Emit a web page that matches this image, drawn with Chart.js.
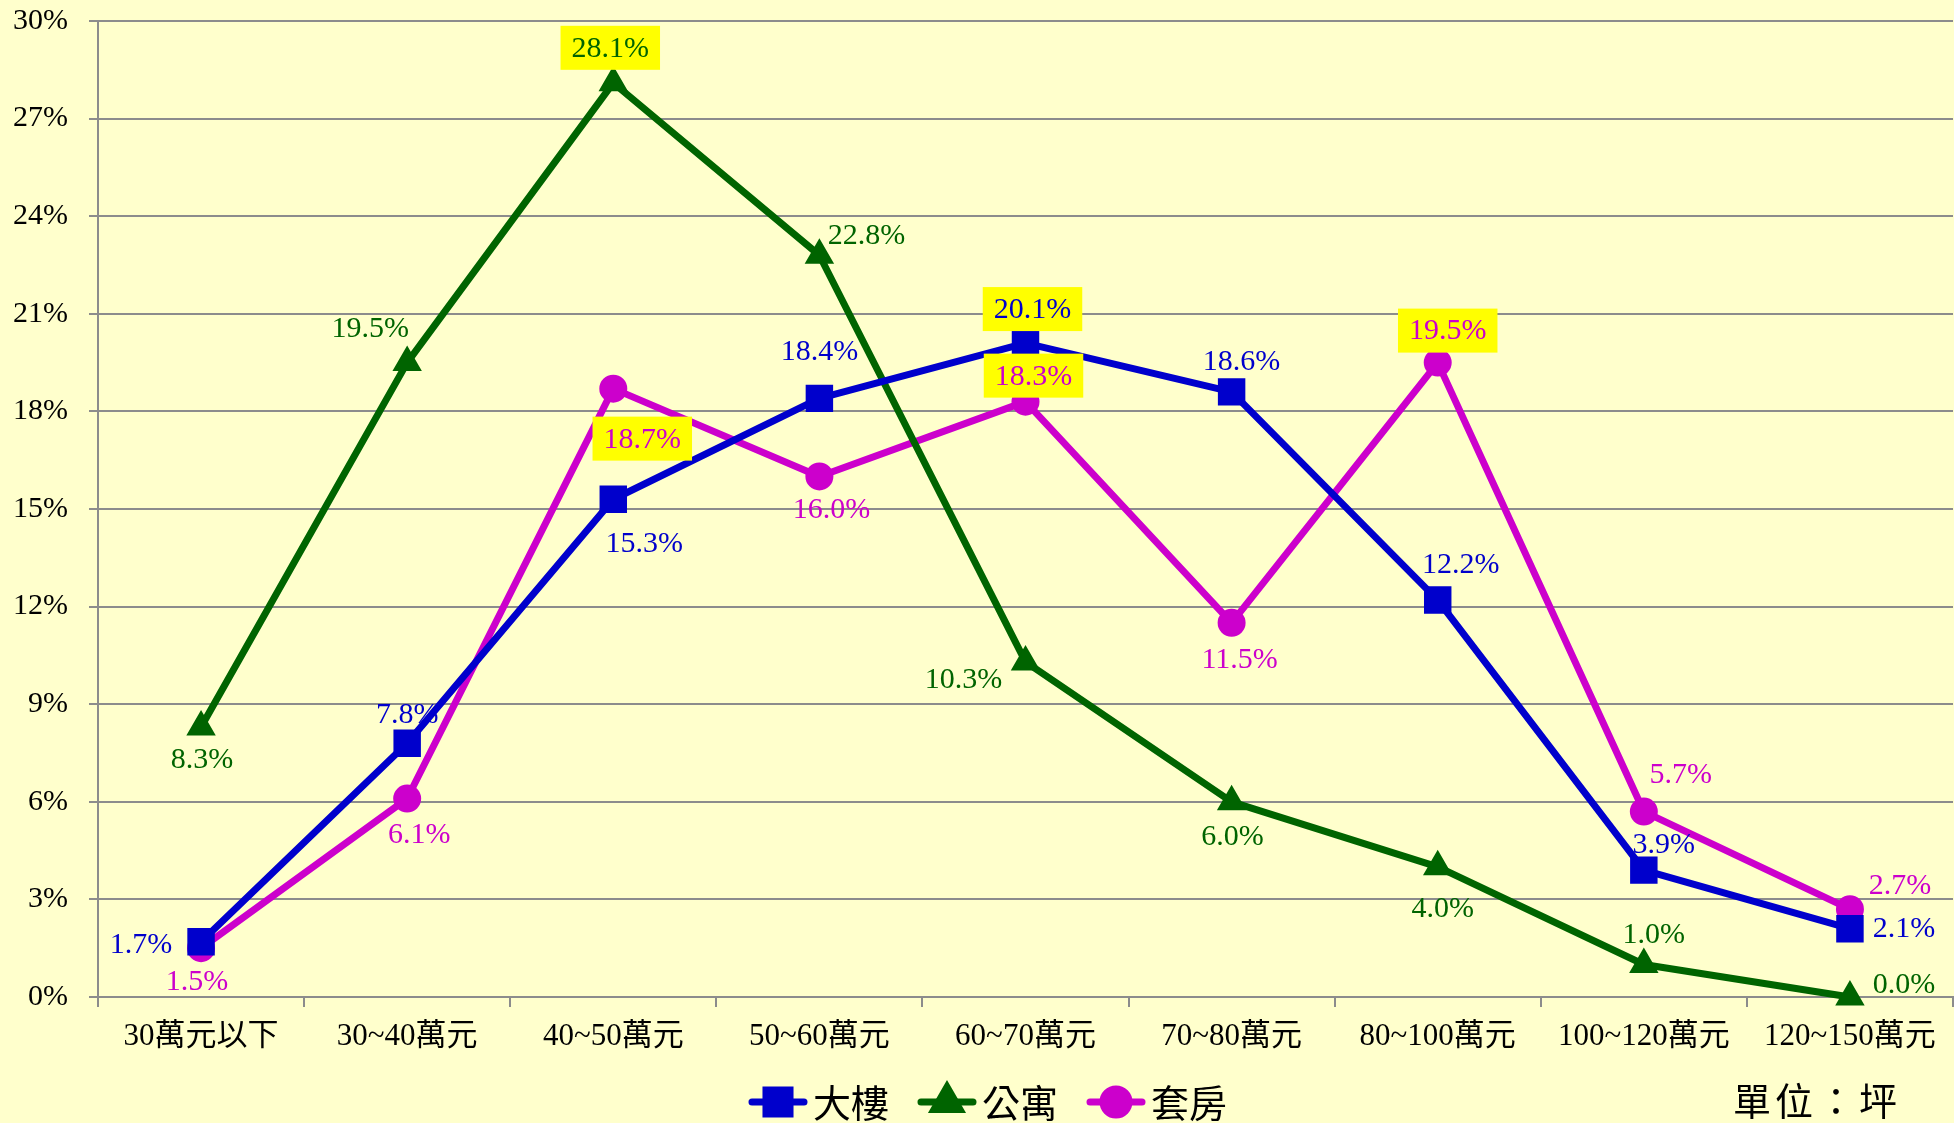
<!DOCTYPE html>
<html>
<head>
<meta charset="utf-8">
<script src="https://cdn.jsdelivr.net/npm/chart.js@4"></script>
<style>
  html, body { margin: 0; padding: 0; background: #ffffcc; overflow: hidden; }
  #wrap { width: 1954px; height: 1123px; position: relative; }
  canvas { display: block; }
</style>
</head>
<body>
<div id="wrap"><canvas id="chart"></canvas></div>
<script>
// data (percent)
const categories = ["30萬元以下", "30~40萬元", "40~50萬元", "50~60萬元", "60~70萬元", "70~80萬元", "80~100萬元", "100~120萬元", "120~150萬元"];
const seriesNames = ["大樓", "公寓", "套房"];
const buildingValues = [1.7, 7.8, 15.3, 18.4, 20.1, 18.6, 12.2, 3.9, 2.1];
const apartmentValues = [8.3, 19.5, 28.1, 22.8, 10.3, 6.0, 4.0, 1.0, 0.0];
const suiteValues = [1.5, 6.1, 18.7, 16.0, 18.3, 11.5, 19.5, 5.7, 2.7];
const yTickValues = [0, 3, 6, 9, 12, 15, 18, 21, 24, 27, 30];
const unitNote = "單位：坪";

const FONT_LATIN = "'Liberation Serif', 'Times New Roman', 'Noto Sans CJK TC', serif";
const COLORS = ["#0000cc", "#006400", "#cc00cc"];

// where each value label sits relative to its point (px), and which get a yellow box
const labelOffsets = [
  [[-60, 2], [0, -29], [31, 44], [0, -47], [7, -34], [10, -31], [23, -36], [20, -26], [54, -1]],
  [[1, 32], [-37, -34], [-3, -35], [47, -20], [-62, 17], [1, 34], [5, 41], [10, -30], [54, -13]],
  [[-4, 33], [12, 36], [29, 50], [12, 33], [8, -26], [8, 36], [10, -32], [37, -37], [50, -24]]
];
const labelHighlight = [
  [false, false, false, false, true, false, false, false, false],
  [false, false, true, false, false, false, false, false, false],
  [false, false, true, false, true, false, true, false, false]
];

const valueLabels = {
  id: "valueLabels",
  afterDatasetsDraw(chart) {
    const ctx = chart.ctx;
    ctx.save();
    ctx.font = "30px " + FONT_LATIN;
    ctx.textAlign = "center";
    ctx.textBaseline = "middle";
    chart.data.datasets.forEach(function (ds, di) {
      const meta = chart.getDatasetMeta(di);
      meta.data.forEach(function (pt, i) {
        const txt = ds.data[i].toFixed(1) + "%";
        const x = pt.x + labelOffsets[di][i][0];
        const y = pt.y + labelOffsets[di][i][1];
        if (labelHighlight[di][i]) {
          const w = ctx.measureText(txt).width + 22;
          ctx.fillStyle = "#ffff00";
          ctx.fillRect(x - w / 2, y - 22, w, 44);
        }
        ctx.fillStyle = COLORS[di];
        ctx.fillText(txt, x, y + 1);
      });
    });
    ctx.restore();
  }
};

const bottomLegend = {
  id: "bottomLegend",
  afterDraw(chart) {
    const ctx = chart.ctx;
    const styles = ["rect", "triangle", "circle"];
    const radii = [17, 15, 13];
    ctx.save();
    ctx.font = "38px 'Noto Sans CJK TC', sans-serif";
    ctx.textBaseline = "middle";
    const lineW = 58, gapText = 6, gapItem = 29;
    let total = 0;
    seriesNames.forEach(function (n, i) {
      total += lineW + gapText + ctx.measureText(n).width + (i < seriesNames.length - 1 ? gapItem : 0);
    });
    let x = chart.width / 2 + 11 - total / 2;
    const y = 1102;
    seriesNames.forEach(function (n, i) {
      ctx.strokeStyle = COLORS[i];
      ctx.fillStyle = COLORS[i];
      ctx.lineWidth = 7;
      ctx.lineCap = "round";
      ctx.beginPath();
      ctx.moveTo(x + 3, y);
      ctx.lineTo(x + lineW - 3, y);
      ctx.stroke();
      Chart.helpers.drawPoint(ctx, { pointStyle: styles[i], radius: radii[i], borderWidth: 1 }, x + lineW / 2, y);
      ctx.fillStyle = "#000000";
      ctx.fillText(n, x + lineW + gapText, y + 1);
      x += lineW + gapText + ctx.measureText(n).width + gapItem;
    });
    ctx.textAlign = "left";
    ctx.letterSpacing = "4px";
    ctx.fillText(unitNote, 1733, 1101);
    ctx.restore();
  }
};

function makeSet(label, values, color, style, radius) {
  return {
    label: label,
    data: values,
    borderColor: color,
    backgroundColor: color,
    borderWidth: 7,
    borderJoinStyle: "round",
    pointStyle: style,
    pointRadius: radius,
    pointBorderWidth: 2,
    pointBorderColor: color,
    pointBackgroundColor: color,
    tension: 0,
    clip: false
  };
}

const gridGray = "#8c8c8c";

new Chart(document.getElementById("chart"), {
  type: "line",
  data: {
    labels: categories,
    datasets: [
      makeSet(seriesNames[0], buildingValues, COLORS[0], "rect", 18),
      makeSet(seriesNames[1], apartmentValues, COLORS[1], "triangle", 15),
      makeSet(seriesNames[2], suiteValues, COLORS[2], "circle", 13)
    ]
  },
  options: {
    responsive: true,
    maintainAspectRatio: false,
    animation: false,
    layout: { autoPadding: false, padding: { top: 21, right: 1, bottom: 0, left: 0 } },
    plugins: {
      legend: { display: false },
      tooltip: { enabled: false }
    },
    scales: {
      x: {
        offset: true,
        afterFit: function (s) { s.height = 126; s.paddingLeft = 0; s.paddingRight = 0; },
        grid: { display: true, offset: true, drawOnChartArea: false, drawTicks: true, tickLength: 10, color: gridGray, lineWidth: 2 },
        border: { display: true, color: gridGray, width: 2 },
        ticks: { color: "#000000", padding: 11, maxRotation: 0, font: { family: FONT_LATIN, size: 31 } }
      },
      y: {
        min: 0,
        max: 30,
        afterFit: function (s) { s.width = 98; s.paddingTop = 0; s.paddingBottom = 0; },
        afterBuildTicks: function (s) { s.ticks = yTickValues.map(function (v) { return { value: v }; }); },
        grid: { color: gridGray, lineWidth: 2, tickLength: 9 },
        border: { display: true, color: gridGray, width: 2 },
        ticks: {
          color: "#000000",
          padding: 21,
          font: { family: FONT_LATIN, size: 30 },
          callback: function (v) { return v + "%"; }
        }
      }
    }
  },
  plugins: [valueLabels, bottomLegend]
});
</script>
</body>
</html>
